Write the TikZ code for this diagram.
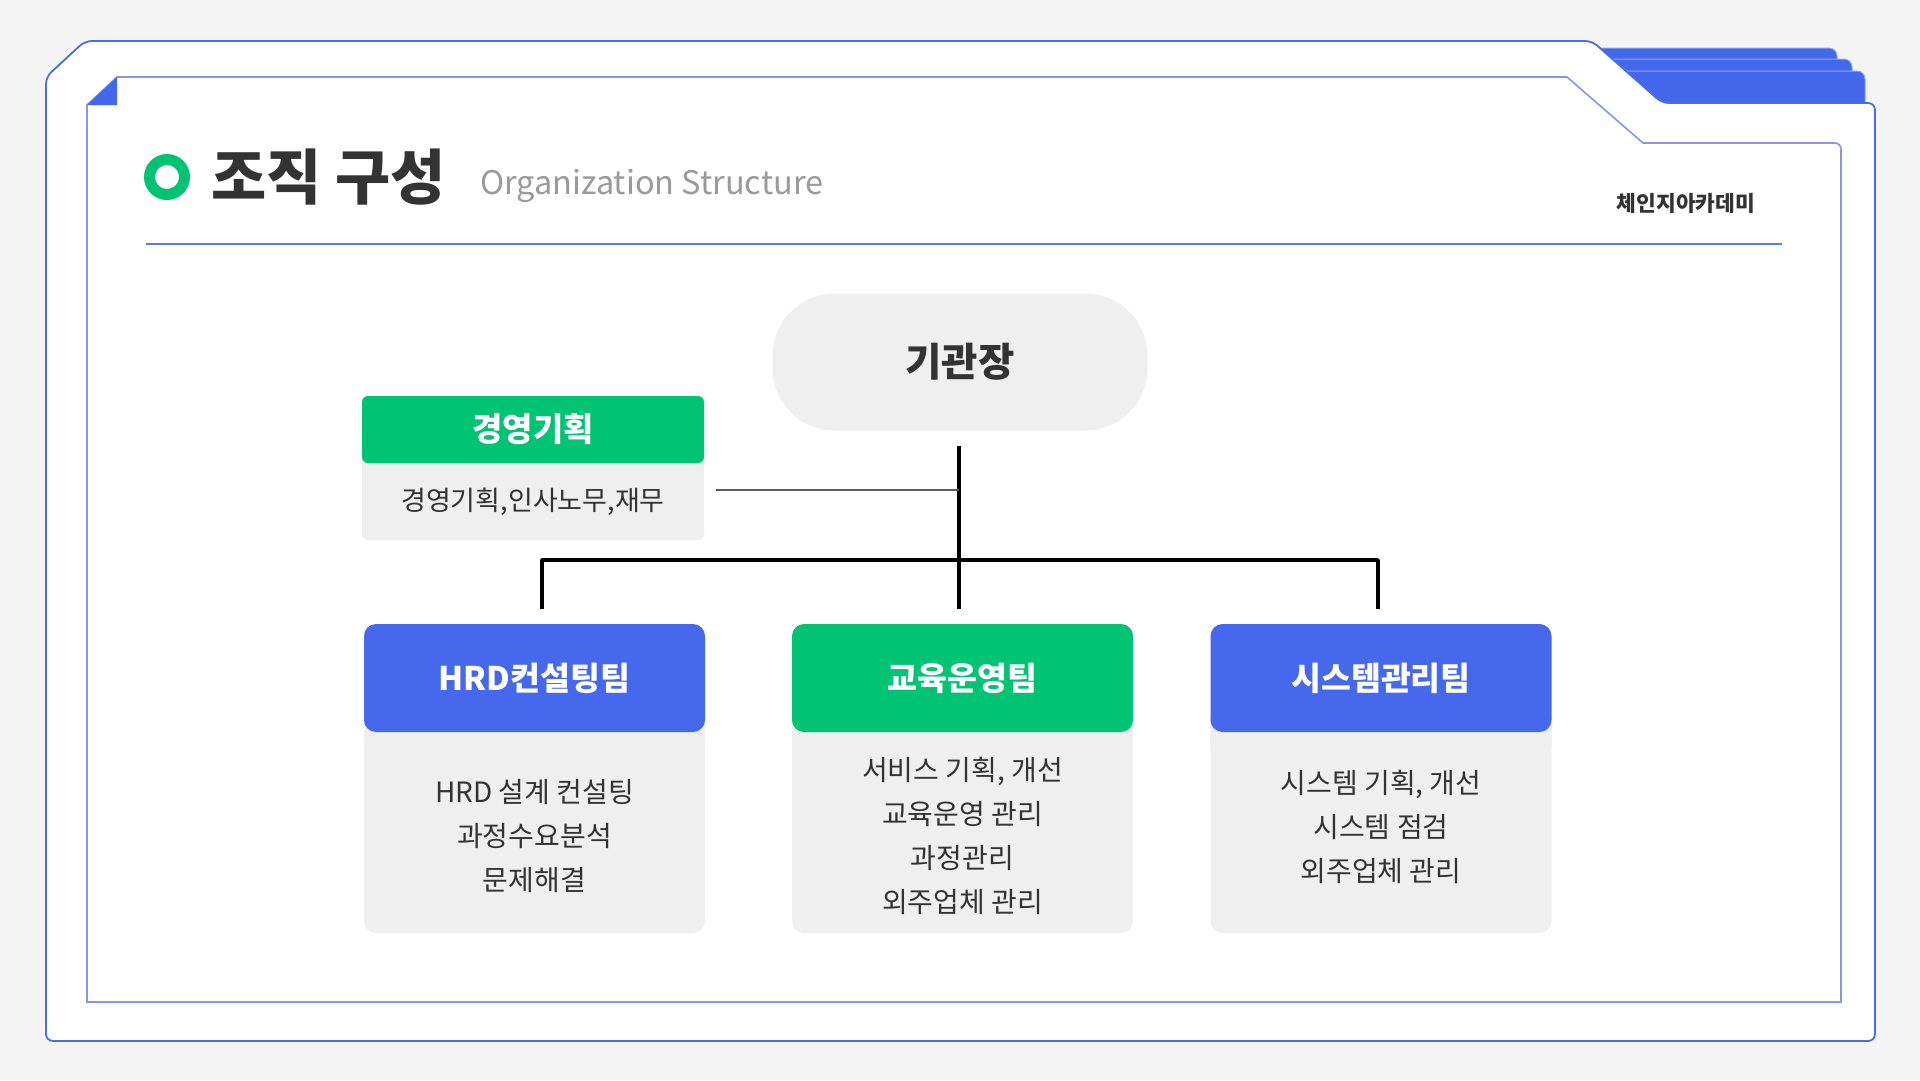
\documentclass[tikz,border=0pt]{standalone}
\usepackage{fontspec}
\setmainfont{Noto Sans CJK KR}
\usetikzlibrary{calc}
\definecolor{bgc}{HTML}{F4F4F4}
\definecolor{frameblue}{HTML}{4A6EE0}
\definecolor{innerblue}{HTML}{8497EC}
\definecolor{tabblue}{HTML}{4468EB}
\definecolor{tabedge}{HTML}{93A8F2}
\definecolor{teamblue}{HTML}{4568EC}
\definecolor{teamgreen}{HTML}{00C473}
\definecolor{boxgray}{HTML}{EFEFEF}
\definecolor{darktext}{HTML}{333333}
\definecolor{subgray}{HTML}{9A9A9A}
\definecolor{ruleblue}{HTML}{5B7BD5}
\tikzset{
  pill/.style={fill=boxgray, minimum width=375pt, minimum height=137pt, rounded corners=62pt,
    inner sep=0pt, text=darktext, font=\fontsize{39.5}{42}\selectfont\bfseries},
  hdrbox/.style={minimum width=341pt, minimum height=108pt, rounded corners=12pt, inner sep=0pt,
    text=white, font=\fontsize{32.5}{36}\selectfont\bfseries},
  bodybox/.style={fill=boxgray, minimum width=341pt, minimum height=201pt, rounded corners=12pt,
    inner sep=0pt},
  bodytext/.style={inner sep=0pt, text=darktext, align=center, font=\fontsize{28}{44}\selectfont},
  mhdr/.style={fill=teamgreen, minimum width=342pt, minimum height=67pt, rounded corners=6pt,
    inner sep=0pt, text=white, font=\fontsize{33}{36}\selectfont\bfseries},
  mbody/.style={fill=boxgray, minimum width=342pt, minimum height=77pt, rounded corners=6pt,
    inner sep=0pt, text=darktext, font=\fontsize{27}{30}\selectfont},
  orgline/.style={draw=black, line width=3.5pt, line join=round},
  thinline/.style={draw=black!65, line width=1.2pt},
}
\begin{document}
\begin{tikzpicture}[x=1pt,y=-1pt]
\useasboundingbox (0,0) rectangle (1920,1080);
\fill[bgc] (0,0) rectangle (1920,1080);

% folder tabs
\foreach \ty/\tx in {48/1837, 59/1852, 71/1865}{
  \filldraw[fill=tabblue, draw=tabedge, line width=1pt, rounded corners=8pt]
    (1560,\ty) -- (\tx,\ty) -- (\tx,130) -- (1560,130) -- cycle;
}
% outer frame
\filldraw[fill=white, draw=frameblue, line width=1.8pt, rounded corners=7pt]
  (46,77) -- (85,41) -- (1592,41) -- (1662,103) -- (1875,103) -- (1875,1041) -- (46,1041) -- cycle;
% inner frame
\draw[draw=innerblue, line width=1.6pt]
  (87,105) -- (117,77) -- (1567,77) -- (1643,143) -- (1835,143)
  arc[start angle=90, end angle=0, radius=6pt] -- (1841,1002) -- (87,1002) -- cycle;
\fill[tabblue] (87,105) -- (117,77) -- (117,105) -- cycle;

% title
\node[circle, draw=teamgreen, line width=11pt, minimum size=35pt, inner sep=0pt] (ring) at (167,177) {};
\node[anchor=west, inner sep=0pt, text=darktext, font=\fontsize{60}{64}\selectfont\bfseries] (title) at (211,177) {조직 구성};
\node[anchor=base west, inner sep=0pt, text=subgray, font=\fontsize{32.5}{36}\selectfont] (subtitle) at (480,194) {Organization Structure};
\node[inner sep=0pt, text=darktext, font=\fontsize{21.5}{24}\selectfont\bfseries] (brand) at (1686,203) {체인지아카데미};
\draw[ruleblue, line width=1.5pt] (146,244) -- (1782,244);

% org chart
\node[pill] (head) at (960,362) {기관장};

\node[mbody] (mb) at (533,501.5) {경영기획,인사노무,재무};
\fill[boxgray] ([yshift=10pt]mb.north west) rectangle ([yshift=-10pt]mb.north east);
\node[mhdr] (mh) at (533,429.5) {경영기획};

\node[bodybox] (t1b) at (534.5,832.5) {};
\fill[boxgray] ([yshift=15pt]t1b.north west) rectangle ([yshift=-15pt]t1b.north east);
\node[hdrbox, fill=teamblue] (t1h) at (534.5,678) {HRD컨설팅팀};
\node[bodytext] (t1t) at (534.5,836) {HRD 설계 컨설팅\\과정수요분석\\문제해결};

\node[bodybox] (t2b) at (962.5,832.5) {};
\fill[boxgray] ([yshift=15pt]t2b.north west) rectangle ([yshift=-15pt]t2b.north east);
\node[hdrbox, fill=teamgreen] (t2h) at (962.5,678) {교육운영팀};
\node[bodytext] (t2t) at (962.5,836) {서비스 기획, 개선\\교육운영 관리\\과정관리\\외주업체 관리};

\node[bodybox] (t3b) at (1381,832.5) {};
\fill[boxgray] ([yshift=15pt]t3b.north west) rectangle ([yshift=-15pt]t3b.north east);
\node[hdrbox, fill=teamblue] (t3h) at (1381,678) {시스템관리팀};
\node[bodytext] (t3t) at (1381,827) {시스템 기획, 개선\\시스템 점검\\외주업체 관리};

\coordinate (jc) at (959,560);
\coordinate (jl) at (542,560);
\coordinate (jr) at (1378,560);
\coordinate (tap) at (959,490);

\draw[orgline, shorten <=15pt, shorten >=15pt] (jc |- head.south) -- (jc |- t2h.north);
\draw[orgline, shorten <=15pt, shorten >=15pt] (jl |- t1h.north) -- (jl) -- (jr) -- (jr |- t3h.north);
\draw[thinline, shorten >=12pt] (tap) -- (tap -| mb.east);
\end{tikzpicture}
\end{document}
